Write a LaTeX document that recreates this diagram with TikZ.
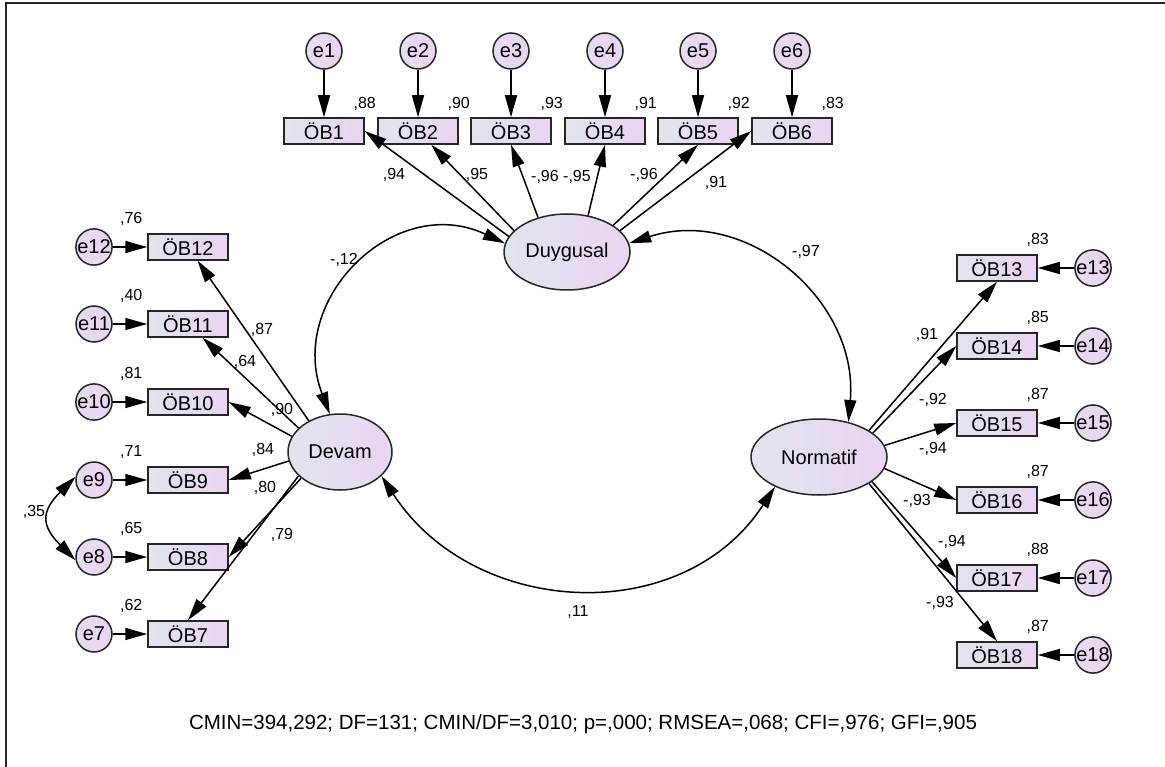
\documentclass[tikz,border=0pt]{standalone}
\usepackage{fontspec}
\setmainfont{Liberation Sans}
\usepackage{xcolor}
\usepackage{tikz}
\usetikzlibrary{positioning,shapes.geometric,arrows.meta,calc}
\definecolor{fillL}{RGB}{226,229,238}
\definecolor{fillR}{RGB}{234,212,243}

\begin{document}
\begin{tikzpicture}[
  x=1pt,y=-1pt,
  font=\fontsize{20}{22}\selectfont,
  >={Triangle[length=22pt,width=12pt]},
  obs/.style={rectangle,draw=black!85,line width=1.5pt,minimum width=80pt,
              minimum height=26pt,inner sep=0pt,left color=fillL,right color=fillR},
  lat/.style={ellipse,draw=black!85,line width=1.5pt,minimum height=76pt,
              inner sep=0pt,left color=fillL,right color=fillR},
  err/.style={circle,draw=black!85,line width=1.5pt,minimum size=36pt,
              inner sep=0pt,left color=fillL!50!fillR,right color=fillR},
  arr/.style={->,line width=1.5pt},
  cov/.style={<->,line width=1.5pt},
  est/.style={font=\fontsize{16}{18}\selectfont,inner sep=0pt}
]
\useasboundingbox (0,0) rectangle (1165,767);
\draw[line width=2.5pt,black!85] (6,767) -- (6,3) -- (1165,3);

% ---- latent factors ----
\node[lat,minimum width=126pt] (duy) at (567,252) {Duygusal};
\node[lat,minimum width=104pt] (dev) at (340,452) {Devam};
\node[lat,minimum width=136pt] (nor) at (819,457) {Normatif};

% ---- Duygusal items ----
\node[obs] (ob1) at (324,131) {ÖB1};
\node[obs] (ob2) at (418,131) {ÖB2};
\node[obs] (ob3) at (511,131) {ÖB3};
\node[obs] (ob4) at (605,131) {ÖB4};
\node[obs] (ob5) at (698,131) {ÖB5};
\node[obs] (ob6) at (792,131) {ÖB6};
\node[err] (e1) at (324,51) {e1};
\node[err] (e2) at (418,51) {e2};
\node[err] (e3) at (511,51) {e3};
\node[err] (e4) at (605,51) {e4};
\node[err] (e5) at (698,51) {e5};
\node[err] (e6) at (792,51) {e6};
\draw[arr] (e1) -- (ob1);
\draw[arr] (e2) -- (ob2);
\draw[arr] (e3) -- (ob3);
\draw[arr] (e4) -- (ob4);
\draw[arr] (e5) -- (ob5);
\draw[arr] (e6) -- (ob6);
\draw[arr] (duy.165) -- (ob1.east);
\draw[arr] (duy.158) -- (ob2);
\draw[arr] (duy.130) -- (ob3.south);
\draw[arr] (duy.60) -- (ob4.south);
\draw[arr] (duy.30) -- (ob5.south);
\draw[arr] (duy.22) -- (ob6.west);
\node[est] (r1) at ([yshift=13pt]ob1.north east) {,88};
\node[est] (r2) at ([yshift=13pt]ob2.north east) {,90};
\node[est] (r3) at ([yshift=13pt]ob3.north east) {,93};
\node[est] (r4) at ([yshift=13pt]ob4.north east) {,91};
\node[est] (r5) at ([yshift=13pt]ob5.north east) {,92};
\node[est] (r6) at ([yshift=13pt]ob6.north east) {,83};
\node[est] (w1) at (394,175) {,94};
\node[est] (w2) at (477,175) {,95};
\node[est] (w3) at (545,177) {-,96};
\node[est] (w4) at (577,177) {-,95};
\node[est] (w5) at (644,175) {-,96};
\node[est] (w6) at (716,183) {,91};

% ---- Devam items ----
\node[obs] (ob12) at (188,247) {ÖB12};
\node[obs] (ob11) at (188,324) {ÖB11};
\node[obs] (ob10) at (188,402) {ÖB10};
\node[obs] (ob9) at (188,480) {ÖB9};
\node[obs] (ob8) at (188,557) {ÖB8};
\node[obs] (ob7) at (188,634) {ÖB7};
\node[err] (e12) at (94,247) {e12};
\node[err] (e11) at (94,324) {e11};
\node[err] (e10) at (94,402) {e10};
\node[err] (e9) at (94,480) {e9};
\node[err] (e8) at (94,557) {e8};
\node[err] (e7) at (94,634) {e7};
\draw[arr] (e12) -- (ob12);
\draw[arr] (e11) -- (ob11);
\draw[arr] (e10) -- (ob10);
\draw[arr] (e9) -- (ob9);
\draw[arr] (e8) -- (ob8);
\draw[arr] (e7) -- (ob7);
\draw[arr] (dev.135) -- (ob12);
\draw[arr] (dev.150) -- (ob11);
\draw[arr] (dev.162) -- (ob10.east);
\draw[arr] (dev.190) -- (ob9.east);
\draw[arr] (dev.214) -- (ob8.east);
\draw[arr] (dev.210) -- (ob7.north);
\draw[cov] (e9.170) to[out=225,in=135,looseness=1.5] (e8.190);
\node[est] (r12) at ([xshift=-16pt,yshift=14pt]ob12.north west) {,76};
\node[est] (r11) at ([xshift=-16pt,yshift=14pt]ob11.north west) {,40};
\node[est] (r10) at ([xshift=-16pt,yshift=14pt]ob10.north west) {,81};
\node[est] (r9) at ([xshift=-16pt,yshift=14pt]ob9.north west) {,71};
\node[est] (r8) at ([xshift=-16pt,yshift=14pt]ob8.north west) {,65};
\node[est] (r7) at ([xshift=-16pt,yshift=14pt]ob7.north west) {,62};
\node[est] (w12) at (262,330) {,87};
\node[est] (w11) at (245,362) {,64};
\node[est] (w10) at (282,410) {,90};
\node[est] (w9) at (263,450) {,84};
\node[est] (w8) at (265,488) {,80};
\node[est] (w7) at (282,535) {,79};
\node[est] (c89) at (34,512) {,35};

% ---- Normatif items ----
\node[obs] (ob13) at (997,268) {ÖB13};
\node[obs] (ob14) at (997,346) {ÖB14};
\node[obs] (ob15) at (997,423) {ÖB15};
\node[obs] (ob16) at (997,500) {ÖB16};
\node[obs] (ob17) at (997,578) {ÖB17};
\node[obs] (ob18) at (997,655) {ÖB18};
\node[err] (e13) at (1093,268) {e13};
\node[err] (e14) at (1093,346) {e14};
\node[err] (e15) at (1093,423) {e15};
\node[err] (e16) at (1093,500) {e16};
\node[err] (e17) at (1093,578) {e17};
\node[err] (e18) at (1093,655) {e18};
\draw[arr] (e13) -- (ob13);
\draw[arr] (e14) -- (ob14);
\draw[arr] (e15) -- (ob15);
\draw[arr] (e16) -- (ob16);
\draw[arr] (e17) -- (ob17);
\draw[arr] (e18) -- (ob18);
\draw[arr] (nor.28) -- (ob13.south);
\draw[arr] (nor.24) -- (ob14.west);
\draw[arr] (nor.10) -- (ob15.west);
\draw[arr] (nor.-10) -- (ob16.west);
\draw[arr] (nor.-25) -- (ob17.west);
\draw[arr] (nor.-28) -- (ob18.north);
\node[est] (r13) at ([yshift=14pt]ob13.north east) {,83};
\node[est] (r14) at ([yshift=14pt]ob14.north east) {,85};
\node[est] (r15) at ([yshift=14pt]ob15.north east) {,87};
\node[est] (r16) at ([yshift=14pt]ob16.north east) {,87};
\node[est] (r17) at ([yshift=14pt]ob17.north east) {,88};
\node[est] (r18) at ([yshift=14pt]ob18.north east) {,87};
\node[est] (w13) at (927,335) {,91};
\node[est] (w14) at (933,400) {-,92};
\node[est] (w15) at (933,449) {-,94};
\node[est] (w16) at (917,501) {-,93};
\node[est] (w17) at (952,542) {-,94};
\node[est] (w18) at (940,603) {-,93};

% ---- factor covariances ----
\draw[cov] (duy.172) to[out=155,in=111,looseness=1.28] (dev.105);
\draw[cov] (duy.8) to[out=18,in=85,looseness=1.11] (nor.50);
\draw[cov] (dev.-30) to[out=-57,in=237,looseness=1.1] (nor.214);
\node[est] (c12) at (344,260) {-,12};
\node[est] (c13) at (806,252) {-,97};
\node[est] (c23) at (578,612) {,11};

% ---- fit indices ----
\node[font=\fontsize{20.5}{23}\selectfont] (fit) at (583,724)
  {CMIN=394,292; DF=131; CMIN/DF=3,010; p=,000; RMSEA=,068; CFI=,976; GFI=,905};
\end{tikzpicture}
\end{document}
